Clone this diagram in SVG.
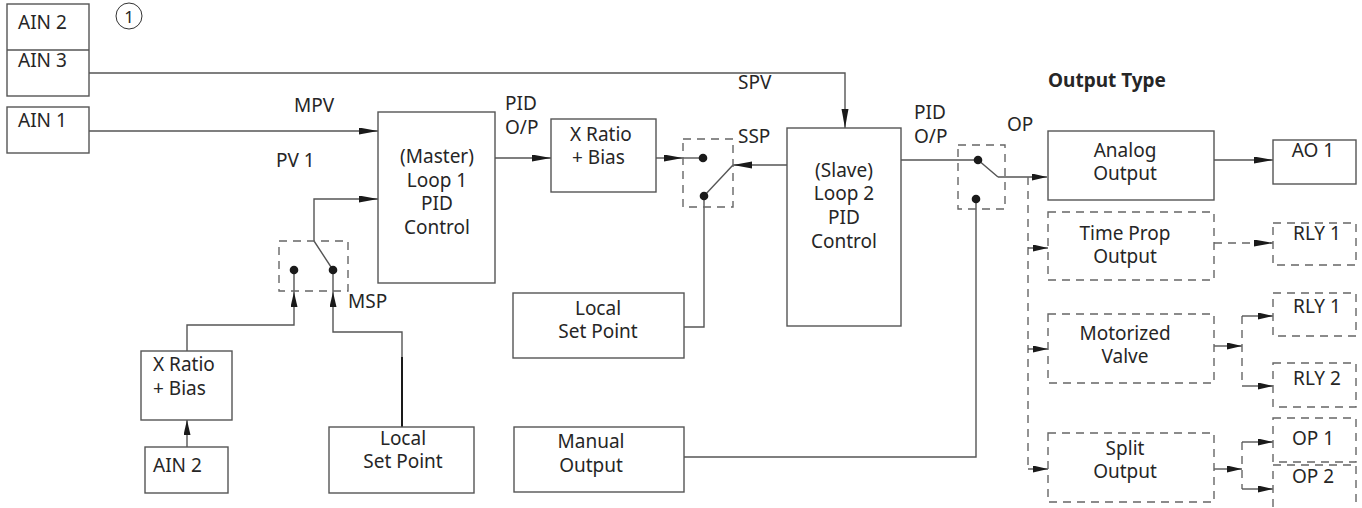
<svg xmlns="http://www.w3.org/2000/svg" width="1362" height="508" viewBox="0 0 1362 508">
<style>
text{font-family:"Noto Sans","DejaVu Sans",sans-serif;font-size:19px;fill:#262626}
.c{text-anchor:middle}
.b{font-weight:bold}
.box{fill:#fff;stroke:#555;stroke-width:1.4}
.dbox{fill:none;stroke:#666;stroke-width:1.4;stroke-dasharray:8 6}
.ln{fill:none;stroke:#555;stroke-width:1.4}
.dl{fill:none;stroke:#666;stroke-width:1.4;stroke-dasharray:8 6}
.dot{fill:#1a1a1a}
</style>
<defs>
<marker id="ar" markerUnits="userSpaceOnUse" markerWidth="20" markerHeight="8" refX="19" refY="3.5" orient="auto">
<path d="M0,0 L19,3.5 L0,7 z" fill="#1a1a1a"/>
</marker>
<marker id="as" markerUnits="userSpaceOnUse" markerWidth="16" markerHeight="8" refX="15" refY="3.5" orient="auto">
<path d="M0,0 L15,3.5 L0,7 z" fill="#1a1a1a"/>
</marker>
</defs>

<g id="connectors">
<path class="ln" d="M89,73 H845 V128" marker-end="url(#ar)"/>
<path class="ln" d="M89,131 H378" marker-end="url(#ar)"/>
<path class="ln" d="M495,158 H551" marker-end="url(#ar)"/>
<path class="ln" d="M656,158 H683" marker-end="url(#ar)"/>
<path class="ln" d="M683,158 H703"/>
<path class="ln" d="M788,165 H733" marker-end="url(#ar)"/>
<path class="ln" d="M733,165 L704,196"/>
<path class="ln" d="M704,196 V327 H684"/>
<path class="ln" d="M901,160 H978 L998,177"/>
<path class="ln" d="M998,177 H1047" marker-end="url(#as)"/>
<path class="ln" d="M976,199 V457 H684"/>
<path class="ln" d="M1214,160 H1273" marker-end="url(#ar)"/>
<path class="ln" d="M333,270 L314,241 V199 H378" marker-end="url(#ar)"/>
<path class="ln" d="M187,351 V325 H294 V292" marker-end="url(#as)"/>
<path class="ln" d="M294,292 V270"/>
<path class="ln" d="M402,427 V332 H333 V292" marker-end="url(#as)"/>
<path class="ln" d="M333,292 V270"/>
<path fill="none" stroke="#1a1a1a" stroke-width="2" d="M402,357 V427"/>
<path class="ln" d="M187,447 V420" marker-end="url(#as)"/>
<path class="dl" d="M1028,177 V469"/>
<path class="ln" d="M1028,248 H1048" marker-end="url(#as)"/>
<path class="ln" d="M1028,349 H1048" marker-end="url(#as)"/>
<path class="ln" d="M1028,469 H1048" marker-end="url(#as)"/>
<path class="dl" d="M1214,243 H1273" marker-end="url(#ar)"/>
<path class="ln" d="M1214,346 H1242" marker-end="url(#as)"/>
<path class="dl" d="M1242,316 V386"/>
<path class="ln" d="M1242,316 H1273" marker-end="url(#as)"/>
<path class="ln" d="M1242,386 H1273" marker-end="url(#as)"/>
<path class="ln" d="M1214,469 H1242" marker-end="url(#as)"/>
<path class="dl" d="M1242,442 V489"/>
<path class="ln" d="M1242,442 H1273" marker-end="url(#as)"/>
<path class="ln" d="M1242,489 H1273" marker-end="url(#as)"/>
</g>

<g id="labels">
<circle cx="129" cy="16" r="13" fill="none" stroke="#333" stroke-width="1"/>
<text x="129" y="22.5" class="c" style="font-size:17px">1</text>
<text x="294" y="112">MPV</text>
<text x="276" y="167">PV 1</text>
<text x="505" y="110">PID</text>
<text x="505" y="134">O/P</text>
<text x="738" y="89">SPV</text>
<text x="738" y="143">SSP</text>
<text x="914" y="119">PID</text>
<text x="914" y="143">O/P</text>
<text x="1007" y="131">OP</text>
<text x="1048" y="87" class="b" style="font-size:19px">Output Type</text>
<text x="348" y="308">MSP</text>
</g>

<g id="switch-msp">
<rect class="dbox" x="279" y="241" width="69" height="50"/>
<circle class="dot" cx="294" cy="270" r="4.3"/>
<circle class="dot" cx="333" cy="270" r="4.3"/>
</g>
<g id="switch-ssp">
<rect class="dbox" x="683" y="139" width="50" height="68"/>
<circle class="dot" cx="703" cy="158" r="4.3"/>
<circle class="dot" cx="704" cy="196" r="4.3"/>
</g>
<g id="switch-op">
<rect class="dbox" x="958" y="145" width="47" height="64"/>
<circle class="dot" cx="978" cy="160" r="4.3"/>
<circle class="dot" cx="976" cy="199" r="4.3"/>
</g>

<g id="ain23">
<rect class="box" x="7" y="4" width="82" height="92"/>
<path class="ln" d="M7,50 H89" stroke="#222"/>
<text x="18" y="29">AIN 2</text>
<text x="18" y="67">AIN 3</text>
</g>
<g id="ain1">
<rect class="box" x="7" y="107" width="82" height="46"/>
<text x="18" y="127">AIN 1</text>
</g>
<g id="master">
<rect class="box" x="378" y="112" width="117" height="171"/>
<text x="437" y="163" class="c">(Master)</text>
<text x="437" y="187" class="c">Loop 1</text>
<text x="437" y="210" class="c">PID</text>
<text x="437" y="234" class="c">Control</text>
</g>
<g id="xratio2">
<rect class="box" x="551" y="119" width="105" height="73"/>
<text x="570" y="141">X Ratio</text>
<text x="572" y="164">+ Bias</text>
</g>
<g id="slave">
<rect class="box" x="787" y="128" width="114" height="198"/>
<text x="844" y="177" class="c">(Slave)</text>
<text x="844" y="200" class="c">Loop 2</text>
<text x="844" y="224" class="c">PID</text>
<text x="844" y="248" class="c">Control</text>
</g>
<g id="localsp2">
<rect class="box" x="513" y="293" width="171" height="65"/>
<text x="598" y="315" class="c">Local</text>
<text x="598" y="338" class="c">Set Point</text>
</g>
<g id="manual">
<rect class="box" x="514" y="427" width="170" height="65"/>
<text x="591" y="448" class="c">Manual</text>
<text x="591" y="472" class="c">Output</text>
</g>
<g id="xratio1">
<rect class="box" x="141" y="351" width="91" height="69"/>
<text x="153" y="371">X Ratio</text>
<text x="153" y="395">+ Bias</text>
</g>
<g id="ain2b">
<rect class="box" x="145" y="447" width="83" height="46"/>
<text x="153" y="472">AIN 2</text>
</g>
<g id="localsp1">
<rect class="box" x="329" y="427" width="145" height="66"/>
<text x="403" y="445" class="c">Local</text>
<text x="403" y="468" class="c">Set Point</text>
</g>
<g id="analog">
<rect class="box" x="1048" y="131" width="166" height="69"/>
<text x="1125" y="157" class="c">Analog</text>
<text x="1125" y="180" class="c">Output</text>
</g>
<g id="ao1">
<rect class="box" x="1273" y="140" width="83" height="44"/>
<text x="1313" y="157" class="c">AO 1</text>
</g>
<g id="timeprop">
<rect class="dbox" x="1048" y="212" width="166" height="68"/>
<text x="1125" y="240" class="c">Time Prop</text>
<text x="1125" y="263" class="c">Output</text>
</g>
<g id="rly1a">
<rect class="dbox" x="1273" y="223" width="83" height="42"/>
<text x="1317" y="240" class="c">RLY 1</text>
</g>
<g id="motorized">
<rect class="dbox" x="1048" y="314" width="166" height="69"/>
<text x="1125" y="340" class="c">Motorized</text>
<text x="1125" y="363" class="c">Valve</text>
</g>
<g id="rly1b">
<rect class="dbox" x="1273" y="293" width="83" height="43"/>
<text x="1317" y="313" class="c">RLY 1</text>
</g>
<g id="rly2">
<rect class="dbox" x="1273" y="363" width="83" height="44"/>
<text x="1317" y="385" class="c">RLY 2</text>
</g>
<g id="split">
<rect class="dbox" x="1048" y="433" width="166" height="69"/>
<text x="1125" y="455" class="c">Split</text>
<text x="1125" y="478" class="c">Output</text>
</g>
<g id="op1">
<rect class="dbox" x="1273" y="418" width="83" height="44"/>
<text x="1313" y="445" class="c">OP 1</text>
</g>
<g id="op2">
<rect class="dbox" x="1273" y="465" width="83" height="50"/>
<text x="1313" y="483" class="c">OP 2</text>
</g>
</svg>
